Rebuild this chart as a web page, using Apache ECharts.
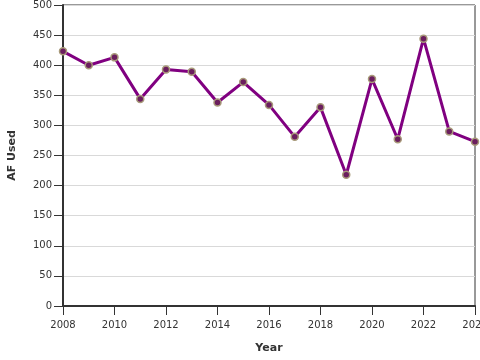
<!DOCTYPE html>
<html><head><meta charset="utf-8">
<script src="https://cdn.jsdelivr.net/npm/echarts@6/dist/echarts.min.js"></script>
<style>html,body{margin:0;padding:0;background:#fff}#c{width:480px;height:360px}</style>
</head><body><div id="c"></div>
<script>
const years = [2008,2009,2010,2011,2012,2013,2014,2015,2016,2017,2018,2019,2020,2021,2022,2023,2024];
const afUsed = [423,400,413,344,393,389,338,372,334,281,330,218,377,277,444,290,273];
const chart = echarts.init(document.getElementById('c'));
const font = 'DejaVu Sans';
chart.setOption({
  animation:false,
  grid:{left:63,right:5,top:5,bottom:54,show:true,borderColor:'#333',borderWidth:1,containLabel:false,outerBoundsMode:'none'},
  xAxis:{type:'value',min:2008,max:2024,interval:2,name:'Year',nameLocation:'middle',nameGap:37,
    nameTextStyle:{fontFamily:font,fontWeight:'bold',fontSize:11,color:'#333'},
    axisLine:{lineStyle:{color:'#333',width:2}},
    axisTick:{show:true,length:9,lineStyle:{color:'#333',width:1}},
    axisLabel:{fontFamily:font,fontSize:10,color:'#333',margin:14,showMaxLabel:true,hideOverlap:false,formatter:v=>String(v)},
    splitLine:{show:false}},
  yAxis:{type:'value',min:0,max:500,interval:50,name:'AF Used',nameLocation:'middle',nameGap:45,
    nameTextStyle:{fontFamily:font,fontWeight:'bold',fontSize:11,color:'#333'},
    axisLine:{show:true,lineStyle:{color:'#333',width:2}},
    axisTick:{show:true,length:9,lineStyle:{color:'#333',width:1}},
    axisLabel:{fontFamily:font,fontSize:10,color:'#333',margin:11,formatter:v=>String(v)},
    splitLine:{show:true,lineStyle:{color:'#d9d9d9',width:1}}},
  series:[{type:'line',data:years.map((y,i)=>[y,afUsed[i]]),
    lineStyle:{color:'#800080',width:3},
    symbol:'circle',symbolSize:7,
    itemStyle:{color:'#6b1e5e',borderColor:'#a89a7a',borderWidth:1.5},
    z:3}]
});
</script></body></html>
